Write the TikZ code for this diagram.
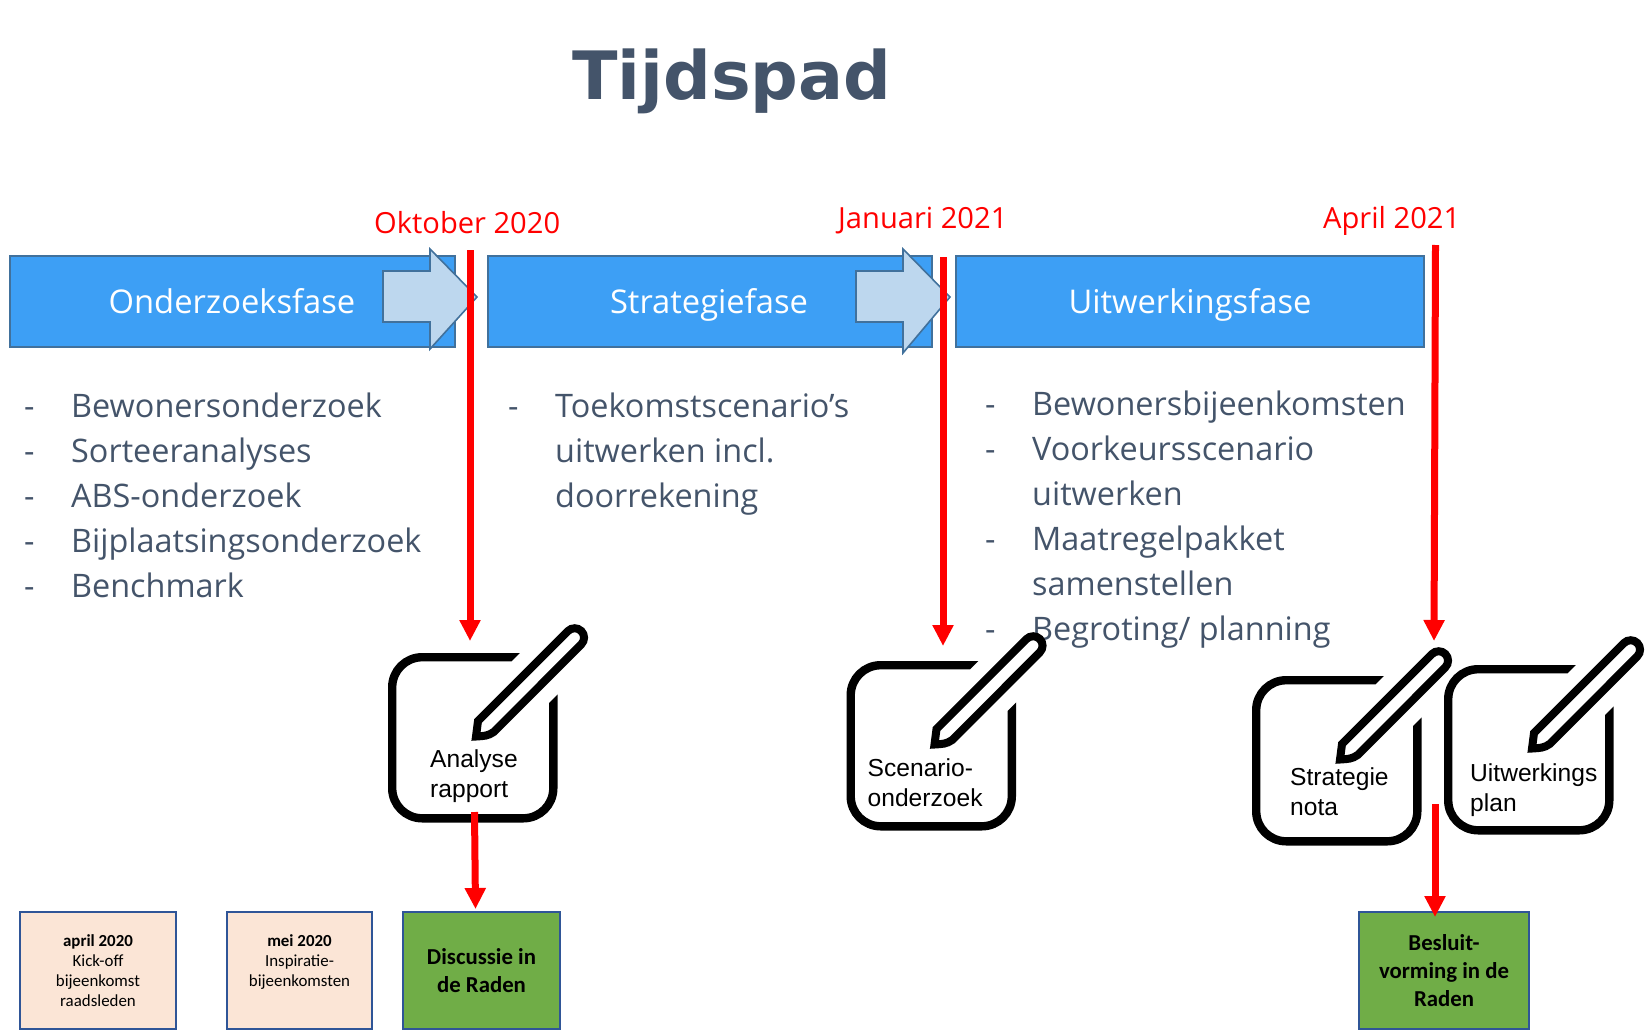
\documentclass[tikz,border=0pt]{standalone}
\usepackage{fontspec}
\usetikzlibrary{arrows.meta}
\setmainfont{Open Sans}
\newfontfamily\titlefont{DejaVu Sans}
\newfontfamily\notefont{Liberation Sans}
\newfontfamily\boxfont{Carlito}
\definecolor{slate}{HTML}{44546A}
\definecolor{barblue}{HTML}{3D9FF5}
\definecolor{baredge}{HTML}{41719C}
\definecolor{paleblue}{HTML}{BDD7EE}
\definecolor{peach}{HTML}{FBE5D6}
\definecolor{leaf}{HTML}{70AD47}
\definecolor{boxedge}{HTML}{2F5597}
\newcommand{\listitem}[1]{\makebox[47pt][l]{-}#1}
\newcommand{\listmore}[1]{\hspace*{47pt}#1}
\tikzset{
  phasebar/.style={draw=baredge,fill=barblue,line width=1.6pt,inner sep=0pt},
  phasetext/.style={text=white,inner sep=0pt,anchor=base,font=\fontsize{32.7}{36}\selectfont},
  datelabel/.style={text=red,inner sep=0pt,anchor=base west,font=\fontsize{29.1}{32}\selectfont},
  listtext/.style={text=slate,inner sep=0pt,anchor=north west,align=left,font=\fontsize{32.4}{45}\selectfont},
  notelabel/.style={inner sep=0pt,anchor=base west,align=left,font=\notefont\fontsize{24.6}{30}\selectfont},
  datebox/.style={draw=boxedge,fill=peach,line width=1.6pt,inner sep=0pt,align=center,font=\boxfont\fontsize{16.9}{20}\selectfont},
  raadbox/.style={draw=boxedge,fill=leaf,line width=1.6pt,inner sep=0pt,align=center,font=\boxfont\bfseries\fontsize{22.8}{28}\selectfont},
  redline/.style={draw=red,line width=7pt,-{Triangle[length=21pt,width=20pt]}},
  notepad/.pic={
    \begin{scope}
      \clip (-5,-5) -- (136.7,-5) -- (120,12) -- (158,53) -- (175,36) -- (175,175) -- (-5,175) -- cycle;
      \draw[line width=8.4pt,rounded corners=30pt] (4.2,4.2) rectangle (165.3,165.3);
    \end{scope}
    \draw[line width=8pt,line join=miter] (88,83.5) -- (90,68) -- (180,-22) arc[start angle=225,end angle=405,radius=9.4] -- (105.7,79) .. controls (100,83) and (96,83) .. cycle;
  }
}
\begin{document}
\begin{tikzpicture}[x=1pt,y=-1pt]
  \useasboundingbox (0,0) rectangle (1645,1030);
  \node[text=slate,inner sep=0pt,anchor=base west,font=\titlefont\bfseries\fontsize{66.7}{80}\selectfont] (title) at (572,100) {Tijdspad};
  % bars
  \node[phasebar,minimum width=445pt,minimum height=91pt] (onderzoek) at (232.5,301.5) {};
  \node[phasebar,minimum width=444pt,minimum height=91pt] (strategie) at (710,301.5) {};
  \node[phasebar,minimum width=468pt,minimum height=91pt] (uitwerking) at (1190,301.5) {};
  \node[phasetext] (onderzoektxt) at (232,313) {Onderzoeksfase};
  \node[phasetext] (strategietxt) at (709,313) {Strategiefase};
  \node[phasetext] (uitwerkingtxt) at (1190,313) {Uitwerkingsfase};
  % block arrows
  \draw[draw=baredge,fill=paleblue,line width=1.6pt] (383,271) -- (430,271) -- (430,249) -- (477,297) -- (430,349) -- (430,322) -- (383,322) -- cycle;
  \draw[draw=baredge,fill=paleblue,line width=1.6pt] (856,271) -- (903,271) -- (903,249) -- (950,297) -- (903,353) -- (903,322) -- (856,322) -- cycle;
  % dates
  \node[datelabel] (oktober) at (374,233) {Oktober 2020};
  \node[datelabel] (januari) at (838,228) {Januari 2021};
  \node[datelabel] (april) at (1323,228) {April 2021};
  % lists
  \node[listtext] (lijst1) at (24,393) {\listitem{Bewonersonderzoek}\\\listitem{Sorteeranalyses}\\\listitem{ABS-onderzoek}\\\listitem{Bijplaatsingsonderzoek}\\\listitem{Benchmark}};
  \node[listtext] (lijst2) at (508,393) {\listitem{Toekomstscenario’s}\\\listmore{uitwerken incl.}\\\listmore{doorrekening}};
  \node[listtext] (lijst3) at (985,391) {\listitem{Bewonersbijeenkomsten}\\\listitem{Voorkeursscenario}\\\listmore{uitwerken}\\\listitem{Maatregelpakket}\\\listmore{samenstellen}\\\listitem{Begroting/ planning}};
  % icons
  \pic at (388,653) {notepad};
  \pic at (846.5,661) {notepad};
  \pic at (1252,676) {notepad};
  \pic at (1444,665) {notepad};
  \node[notelabel] (analyse) at (430,797) {Analyse\\rapport};
  \node[notelabel] (scenario) at (867.5,806) {Scenario-\\onderzoek};
  \node[notelabel] (nota) at (1290,815) {Strategie\\nota};
  \node[notelabel] (plan) at (1470,811) {Uitwerkings\\plan};
  % boxes at the bottom
  \node[datebox,minimum width=156pt,minimum height=117pt] (april2020) at (98,970.5) {\textbf{april 2020}\\Kick-off\\bijeenkomst\\raadsleden};
  \node[datebox,minimum width=145pt,minimum height=117pt] (mei2020) at (299.5,970.5) {\textbf{mei 2020}\\Inspiratie-\\bijeenkomsten\\~};
  \node[raadbox,minimum width=157pt,minimum height=117pt] (raden1) at (481.5,970.5) {Discussie in\\de Raden};
  \node[raadbox,minimum width=170pt,minimum height=117pt] (raden2) at (1444,970.5) {Besluit-\\vorming in de\\Raden};
  % red arrows
  \coordinate (r1top) at (470,250);
  \coordinate (r1end) at (470,641);
  \coordinate (r2top) at (943,257);
  \coordinate (r2end) at (943,646);
  \coordinate (r3top) at (1435.5,245);
  \coordinate (r3end) at (1434,641);
  \coordinate (r4top) at (474.5,812);
  \coordinate (r4end) at (475.5,909);
  \coordinate (r5top) at (1435,804);
  \coordinate (r5end) at (1435,917);
  \draw[redline] (r1top) -- (r1end);
  \draw[redline] (r2top) -- (r2end);
  \draw[redline] (r3top) -- (r3end);
  \draw[redline] (r4top) -- (r4end);
  \draw[redline] (r5top) -- (r5end);
\end{tikzpicture}
\end{document}
